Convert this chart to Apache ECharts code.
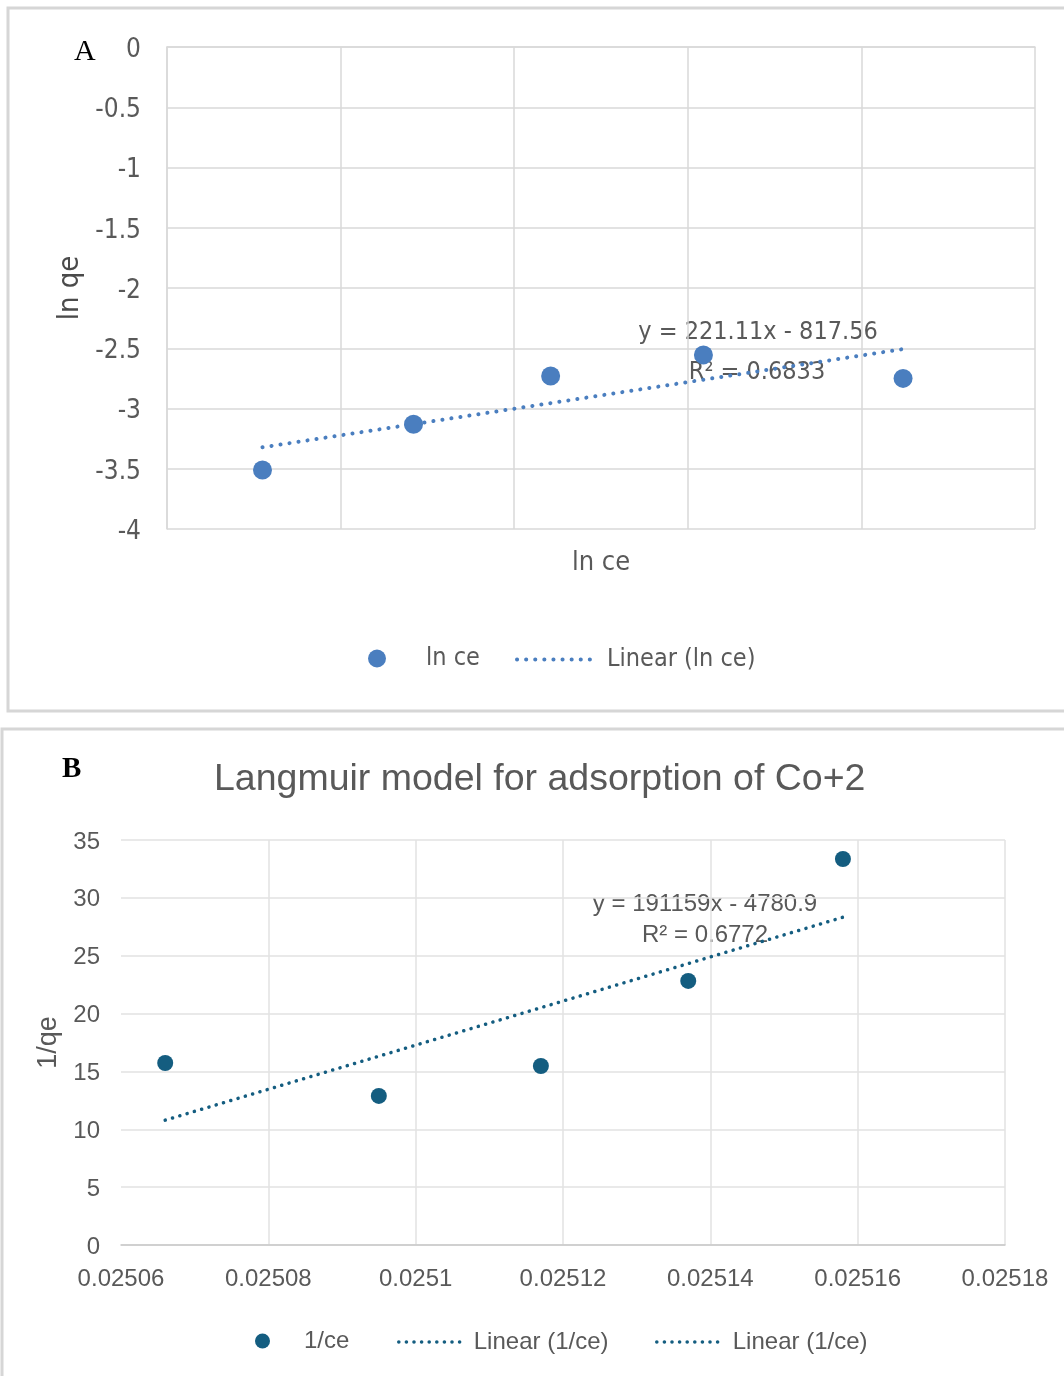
<!DOCTYPE html>
<html>
<head>
<meta charset="utf-8">
<script src="https://cdn.jsdelivr.net/npm/echarts@6/dist/echarts.min.js"></script>
<style>
  html, body { margin: 0; padding: 0; background: #fff; }
  #chart { width: 1064px; height: 1376px; }
</style>
</head>
<body>
<div id="chart"></div>
<script>
// 图A：ln qe 对 ln ce
var lnCe = [3.68255, 3.68342, 3.68421, 3.68509, 3.68624];
var lnQe = [-3.51, -3.13, -2.73, -2.555, -2.75];
var eqA = ['y = 221.11x - 817.56', 'R² = 0.6833'];

// 图B：Langmuir 1/qe 对 1/ce
var invCe = [0.025066, 0.025095, 0.025117, 0.025137, 0.025158];
var invQe = [15.73, 12.88, 15.47, 22.82, 33.36];
var eqB = ['y = 191159x - 4780.9', 'R² = 0.6772'];

// 线性拟合（趋势线）
function linFit(xs, ys) {
  var n = xs.length, mx = 0, my = 0;
  for (var i = 0; i < n; i++) { mx += xs[i]; my += ys[i]; }
  mx /= n; my /= n;
  var sxy = 0, sxx = 0;
  for (var j = 0; j < n; j++) {
    sxy += (xs[j] - mx) * (ys[j] - my);
    sxx += (xs[j] - mx) * (xs[j] - mx);
  }
  var k = sxy / sxx, b = my - k * mx;
  var x0 = Math.min.apply(null, xs), x1 = Math.max.apply(null, xs);
  return [[x0, k * x0 + b], [x1, k * x1 + b]];
}
function pairs(xs, ys) {
  return xs.map(function (x, i) { return [x, ys[i]]; });
}

var colA = '#4a7ebf';
var colB = '#145d80';
var grey = '#595959';
var narrow = '"Liberation Sans Narrow", "DejaVu Sans Condensed", sans-serif';
var arial = '"Liberation Sans", Arial, sans-serif';
var gridCol = '#d9d9d9';
// 图例里线条不画中间的圆点
var noDot = { color: 'rgba(0,0,0,0)', borderColor: 'rgba(0,0,0,0)', borderWidth: 0, opacity: 0 };

var myChart = echarts.init(document.getElementById('chart'));
var option = {
  backgroundColor: '#fff',
  animation: false,
  title: {
    text: 'Langmuir model for adsorption of Co+2',
    left: 214, top: 761, padding: 0,
    textStyle: { fontFamily: arial, fontSize: 37.5, fontWeight: 'normal', color: grey }
  },
  grid: [
    { left: 167, top: 47, width: 868, height: 482 },
    { left: 121, top: 840, width: 884, height: 405 }
  ],
  xAxis: [{
    gridIndex: 0,
    type: 'value',
    min: 3.682, max: 3.687, interval: 0.001,
    name: 'ln ce',
    nameLocation: 'middle',
    nameGap: 20,
    nameTextStyle: { fontFamily: narrow, fontSize: 27, color: grey, verticalAlign: 'top' },
    axisLabel: { show: false },
    axisTick: { show: false },
    axisLine: { lineStyle: { color: gridCol, width: 1.5 } },
    splitLine: { lineStyle: { color: gridCol, width: 1.5 } }
  }, {
    gridIndex: 1,
    type: 'value',
    min: 0.02506, max: 0.02518, interval: 0.00002,
    axisLabel: {
      fontFamily: arial, fontSize: 24, color: grey, margin: 22,
      formatter: function (v) { return String(+v.toFixed(5)); }
    },
    axisTick: { show: false },
    axisLine: { lineStyle: { color: '#c8c8c8', width: 1.5 } },
    splitLine: { showMinLine: false, lineStyle: { color: '#e2e2e2', width: 1.5 } }
  }],
  yAxis: [{
    gridIndex: 0,
    type: 'value',
    min: -4, max: 0, interval: 0.5,
    name: 'ln qe',
    nameLocation: 'middle',
    nameGap: 82,
    nameTextStyle: { fontFamily: narrow, fontSize: 29, color: '#4a4a4a' },
    axisLabel: {
      margin: 26,
      formatter: function (v) { return '{t|' + v + '}'; },
      rich: { t: { fontFamily: narrow, fontSize: 26, color: grey, padding: [6, 0, 0, 0] } }
    },
    axisTick: { show: false },
    axisLine: { show: true, lineStyle: { color: gridCol, width: 1.5 } },
    splitLine: { lineStyle: { color: gridCol, width: 1.5 } }
  }, {
    gridIndex: 1,
    type: 'value',
    min: 0, max: 35, interval: 5,
    name: '1/qe',
    nameLocation: 'middle',
    nameGap: 51,
    nameTextStyle: { fontFamily: arial, fontSize: 27, color: grey },
    axisLabel: {
      margin: 21,
      formatter: function (v) { return '{t|' + v + '}'; },
      rich: { t: { fontFamily: arial, fontSize: 24, color: grey, padding: [4, 0, 0, 0] } }
    },
    axisTick: { show: false },
    axisLine: { show: false },
    splitLine: { lineStyle: { color: '#e2e2e2', width: 1.5 } }
  }],
  legend: [{
    data: [{ name: 'ln ce', icon: 'circle' }],
    left: 368, top: 646, padding: 0,
    itemWidth: 18, itemHeight: 18,
    textStyle: { fontFamily: narrow, fontSize: 25, color: grey, padding: [0, 0, 0, 35] }
  }, {
    data: ['Linear (ln ce)'],
    left: 515, top: 647, padding: 0,
    itemWidth: 78, itemHeight: 14,
    lineStyle: { width: 4 },
    itemStyle: noDot,
    textStyle: { fontFamily: narrow, fontSize: 25, color: grey, padding: [0, 0, 0, 7] }
  }, {
    data: [{ name: '1/ce', icon: 'circle' }],
    left: 255, top: 1329, padding: 0,
    itemWidth: 15, itemHeight: 15,
    textStyle: { fontFamily: arial, fontSize: 24, color: grey, padding: [0, 0, 0, 29] }
  }, {
    data: ['Linear (1/ce)'],
    left: 397, top: 1330, padding: 0,
    itemWidth: 65, itemHeight: 14,
    lineStyle: { width: 3.5 },
    itemStyle: noDot,
    textStyle: { fontFamily: arial, fontSize: 24, color: grey, padding: [0, 0, 0, 5] }
  }, {
    data: ['Linear (1/ce)'],
    left: 655, top: 1330, padding: 0,
    itemWidth: 65, itemHeight: 14,
    lineStyle: { width: 3.5 },
    itemStyle: noDot,
    textStyle: { fontFamily: arial, fontSize: 24, color: grey, padding: [0, 0, 0, 6] }
  }],
  graphic: [
    { type: 'rect', shape: { x: 8, y: 8, width: 1080, height: 703 },
      style: { fill: 'none', stroke: '#d6d6d6', lineWidth: 3 }, silent: true },
    { type: 'rect', shape: { x: 2, y: 729, width: 1080, height: 700 },
      style: { fill: 'none', stroke: '#d6d6d6', lineWidth: 3 }, silent: true },
    { type: 'text', left: 74, top: 37,
      style: { text: 'A', font: '30px "Liberation Serif", serif', fill: '#000' } },
    { type: 'text', left: 62, top: 755,
      style: { text: 'B', font: 'bold 29px "Liberation Serif", serif', fill: '#000' } },
    { type: 'text', x: 758, y: 332,
      style: { text: eqA[0], font: '25px ' + narrow, fill: grey, align: 'center', verticalAlign: 'middle' } },
    { type: 'text', x: 757, y: 372,
      style: { text: eqA[1], font: '25px ' + narrow, fill: grey, align: 'center', verticalAlign: 'middle' } },
    { type: 'text', x: 705, y: 904,
      style: { text: eqB[0], font: '24px ' + arial, fill: grey, align: 'center', verticalAlign: 'middle' } },
    { type: 'text', x: 705, y: 935,
      style: { text: eqB[1], font: '24px ' + arial, fill: grey, align: 'center', verticalAlign: 'middle' } }
  ],
  series: [{
    name: 'Linear (ln ce)',
    type: 'line',
    xAxisIndex: 0, yAxisIndex: 0,
    symbol: 'none',
    data: linFit(lnCe, lnQe),
    lineStyle: { color: colA, width: 4, type: [0.1, 9], cap: 'round' },
    itemStyle: { color: colA },
    z: 3
  }, {
    name: 'ln ce',
    type: 'scatter',
    xAxisIndex: 0, yAxisIndex: 0,
    symbolSize: 19,
    data: pairs(lnCe, lnQe),
    itemStyle: { color: colA, opacity: 1 },
    z: 4
  }, {
    name: 'Linear (1/ce)',
    type: 'line',
    xAxisIndex: 1, yAxisIndex: 1,
    symbol: 'none',
    data: linFit(invCe, invQe),
    lineStyle: { color: colB, width: 3.5, type: [0.1, 7.5], cap: 'round' },
    itemStyle: { color: colB },
    z: 3
  }, {
    name: '1/ce',
    type: 'scatter',
    xAxisIndex: 1, yAxisIndex: 1,
    symbolSize: 16,
    data: pairs(invCe, invQe),
    itemStyle: { color: colB, opacity: 1 },
    z: 4
  }]
};
myChart.setOption(option);
window.addEventListener('resize', function () {
  myChart.resize();
});
</script>
</body>
</html>
